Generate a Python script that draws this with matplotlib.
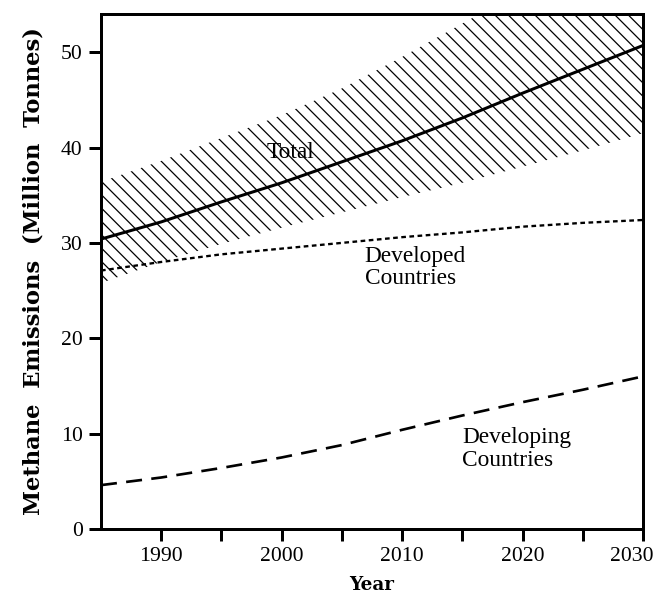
import matplotlib
matplotlib.use("Agg")
import matplotlib.pyplot as plt
import matplotlib.transforms as mtransforms

years = [1985, 1990, 1995, 2000, 2005, 2010, 2015, 2020, 2025, 2030]
total = [30.4, 32.2, 34.3, 36.3, 38.5, 40.7, 43.1, 45.7, 48.2, 50.7]
total_upper = [36.4, 38.6, 41.0, 43.4, 46.2, 49.5, 53.0, 56.5, 60.0, 63.5]
total_lower = [25.8, 28.0, 29.9, 31.6, 33.2, 34.8, 36.3, 38.0, 39.7, 41.5]
developed = [27.1, 28.0, 28.8, 29.4, 30.0, 30.6, 31.1, 31.7, 32.1, 32.4]
developing = [4.6, 5.4, 6.4, 7.5, 8.8, 10.4, 11.9, 13.3, 14.6, 16.0]

major_years = [1990, 2000, 2010, 2020, 2030]
minor_years = [1995, 2005, 2015, 2025]
y_ticks = [0, 10, 20, 30, 40, 50]

DPI = 120
plt.rcParams['hatch.linewidth'] = 0.75
plt.rcParams['font.family'] = ['Liberation Serif', 'DejaVu Serif']

fig = plt.figure(figsize=(658 / DPI, 595 / DPI), dpi=DPI)
ax = fig.add_axes([101 / 658, 1 - 529 / 595, (643 - 101) / 658, (529 - 14) / 595])

ax.fill_between(years, total_lower, total_upper, facecolor='none',
                edgecolor='black', hatch='\\\\\\', linewidth=0)
ax.plot(years, total, color='black', lw=1.8, solid_capstyle='butt')
ax.plot(years, developed, color='black', lw=1.4, linestyle=(0, (2.0, 1.5)))
ax.plot(years, developing, color='black', lw=1.6, linestyle=(0, (6, 3.5)))

ax.set_xlim(1985, 2030)
ax.set_ylim(0, 54)

ax.set_xticks(major_years)
ax.set_xticks(minor_years, minor=True)
ax.set_yticks(y_ticks)
ax.tick_params(axis='both', which='both', direction='out', length=7, width=1.8,
               labelsize=13, pad=4)
ax.tick_params(axis='x', which='minor', labelbottom=False)

for sp in ax.spines.values():
    sp.set_linewidth(1.8)

# shift last tick label slightly left
labels = ax.get_xticklabels()
offset = mtransforms.ScaledTranslation(-11 / DPI, 0, fig.dpi_scale_trans)
labels[-1].set_transform(labels[-1].get_transform() + offset)

ax.set_xlabel('Year', family=['DejaVu Serif'], fontweight='bold', fontsize=11, labelpad=6)
ax.set_ylabel('Methane  Emissions  (Million  Tonnes)', family=['DejaVu Serif'],
              fontweight='bold', fontsize=13.6, labelpad=10)

ax.text(2000.7, 39.5, 'Total', ha='center', va='center', fontsize=14)
ax.text(2006.9, 27.4, 'Developed\nCountries', ha='left', va='center', fontsize=14,
        linespacing=1.1)
ax.text(2015.0, 8.4, 'Developing\nCountries', ha='left', va='center', fontsize=14,
        linespacing=1.15)

fig.savefig('out.png', dpi=DPI)
